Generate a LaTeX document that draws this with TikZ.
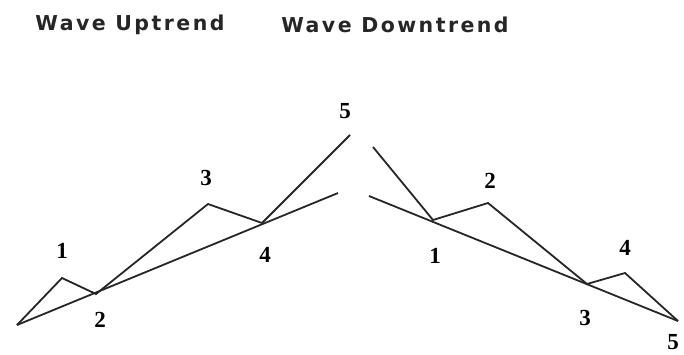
\documentclass[tikz,border=0pt]{standalone}
\usepackage{fontspec}
\setmainfont{Liberation Serif}
\newfontfamily\titlefont[LetterSpace=12]{DejaVu Sans}
\usepackage{tikz}
\usetikzlibrary{positioning}

\begin{document}
\begin{tikzpicture}[
  x=1pt,y=-1pt,
  wave/.style={line width=1.8pt,line join=miter,draw=black!85},
  trend/.style={line width=1.8pt,draw=black!85},
  num/.style={font=\fontsize{23}{23}\selectfont\bfseries,inner sep=0pt},
  title/.style={font=\fontsize{20.5}{22}\selectfont\titlefont\bfseries,inner sep=0pt,text=black!85},
]
\useasboundingbox (0,0) rectangle (684,354);

\node[title] (uptitle) at (130,25) {Wave Uptrend};
\node[title] (downtitle) at (395,25) {Wave Downtrend};

% uptrend
\coordinate (u0) at (17,325);
\coordinate (u1) at (62,278);
\coordinate (u2) at (96,294);
\coordinate (u3) at (208,204);
\coordinate (u4) at (262,223);
\coordinate (u5) at (350,135);
\coordinate (uend) at (338,193);
\draw[wave] (u0) -- (u1) -- (u2) -- (u3) -- (u4) -- (u5);
\draw[trend] (u0) -- (uend);

\node[num] (lu1) at (62,251) {1};
\node[num] (lu2) at (100,320) {2};
\node[num] (lu3) at (206,178) {3};
\node[num] (lu4) at (265,255) {4};
\node[num] (lu5) at (345,111) {5};

% downtrend
\coordinate (d0) at (373,147);
\coordinate (d1) at (433,220);
\coordinate (d2) at (488,203);
\coordinate (d3) at (587,284);
\coordinate (d4) at (625,273);
\coordinate (d5) at (678,321);
\coordinate (dstart) at (369,196);
\draw[wave] (d0) -- (d1) -- (d2) -- (d3) -- (d4) -- (d5);
\draw[trend] (dstart) -- (d5);

\node[num] (ld1) at (435,256) {1};
\node[num] (ld2) at (490,181) {2};
\node[num] (ld3) at (585,318) {3};
\node[num] (ld4) at (625,248) {4};
\node[num] (ld5) at (673,342) {5};
\end{tikzpicture}
\end{document}
